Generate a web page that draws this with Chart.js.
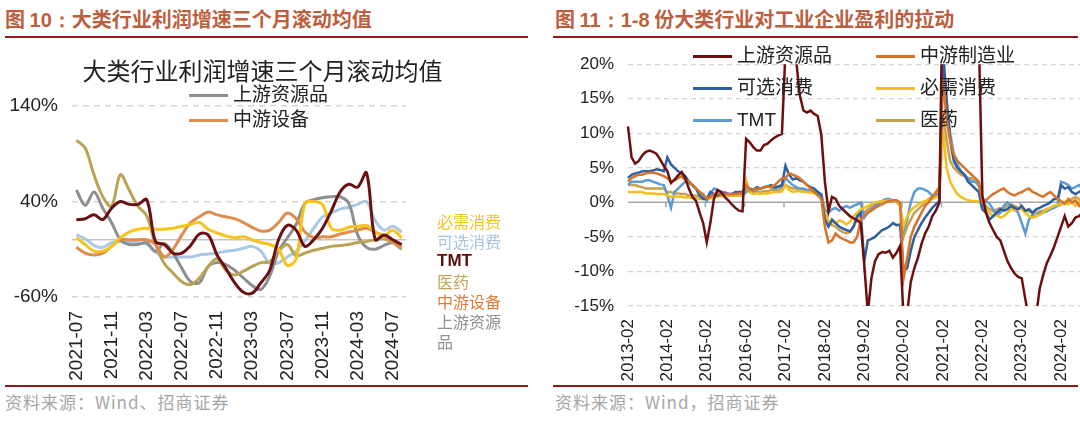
<!DOCTYPE html>
<html>
<head>
<meta charset="utf-8">
<script src="https://cdn.jsdelivr.net/npm/chart.js@4.4.1/dist/chart.umd.min.js"></script>
<style>
  body { margin: 0; background: #fff; width: 1080px; height: 421px; position: relative; overflow: hidden;
         font-family: "Noto Sans CJK SC", "Liberation Sans", sans-serif; }
  .abs { position: absolute; }
  .head { top: 4px; font-size: 20px; font-weight: bold; color: #bd5f3e; white-space: nowrap; }
  .head b { font-family: "Liberation Sans", Arial, sans-serif; }
  .rule { height: 2px; background: #8e1b1b; }
  .src { top: 389px; font-size: 17px; color: #a6a6a6; white-space: nowrap; letter-spacing: 1px; }
  .lg { font-size: 19px; color: #222; white-space: nowrap; line-height: 24px; }
  .lg i { display: inline-block; width: 39px; height: 3px; vertical-align: middle; margin-right: 5px; }
  .ctitle { left: 0; width: 525px; top: 57px; line-height: 26px; text-align: center; font-size: 24px; color: #222; white-space: nowrap; }
  .side { left: 437px; top: 211px; width: 76px; font-size: 16px; line-height: 20px; }
</style>
</head>
<body>

<div class="abs head" style="left:5px">图 <b>10：</b>大类行业利润增速三个月滚动均值</div>
<div class="abs rule" style="left:5px;top:36px;width:523px"></div>
<div class="abs head" style="left:555px">图 <b>11：1-8</b> 份大类行业对工业企业盈利的拉动</div>
<div class="abs rule" style="left:553px;top:36px;width:525px"></div>

<canvas id="left" class="abs" style="left:0;top:40px" width="525" height="345"></canvas>
<canvas id="right" class="abs" style="left:553px;top:40px" width="555" height="345"></canvas>

<div class="abs ctitle">大类行业利润增速三个月滚动均值</div>

<!-- legends -->
<div class="abs lg" style="left:189px;top:81px"><i style="background:#8e8e8e"></i>上游资源品</div>
<div class="abs lg" style="left:189px;top:106px"><i style="background:#e08a4c"></i>中游设备</div>

<div class="abs side">
  <div style="color:#f5c31c">必需消费</div>
  <div style="color:#a9c4dc">可选消费</div>
  <div style="color:#5a1010;font-family:'Liberation Sans',Arial,sans-serif;font-size:17px;font-weight:bold">TMT</div>
  <div style="color:#c4a256">医药</div>
  <div style="color:#e07b39">中游设备</div>
  <div style="color:#909090">上游资源品</div>
</div>

<div class="abs lg" style="left:693px;top:42px"><i style="background:#6d0f0f"></i>上游资源品</div>
<div class="abs lg" style="left:876px;top:42px"><i style="background:#d7742b"></i>中游制造业</div>
<div class="abs lg" style="left:693px;top:74px"><i style="background:#2f5f9e"></i>可选消费</div>
<div class="abs lg" style="left:876px;top:74px"><i style="background:#f2c01e"></i>必需消费</div>
<div class="abs lg" style="left:693px;top:106px"><i style="background:#5d9bd3"></i><span style="font-family:'Liberation Sans',Arial,sans-serif">TMT</span></div>
<div class="abs lg" style="left:876px;top:106px"><i style="background:#c9a04f"></i>医药</div>

<div class="abs rule" style="left:5px;top:385px;width:523px"></div>
<div class="abs rule" style="left:553px;top:385px;width:525px"></div>
<div class="abs src" style="left:5px">资料来源：Wind、招商证券</div>
<div class="abs src" style="left:555px">资料来源：Wind，招商证券</div>

<script>
// ---- left chart: 三个月滚动均值 (%) ----
const leftMonths = [
  '2021-07','2021-08','2021-09','2021-10','2021-11','2021-12',
  '2022-01','2022-02','2022-03','2022-04','2022-05','2022-06','2022-07','2022-08','2022-09','2022-10','2022-11','2022-12',
  '2023-01','2023-02','2023-03','2023-04','2023-05','2023-06','2023-07','2023-08','2023-09','2023-10','2023-11','2023-12',
  '2024-01','2024-02','2024-03','2024-04','2024-05','2024-06','2024-07','2024-08'
];
const leftUpstream = [52, 36, 50, 33, 18, 0, -5, -5, -3, -12, -4, -14, -30, -44, -45, -28, -24, -26, -32, -40,
  -48, -52, -38, -12, 2, 16, 38, 42, 44, 45, 45, 38, 5, -8, -10, -6, -3, -5];
const leftEquip = [-8, -14, -16, -14, -7, 0, 0, 0, 0, -5, -18, -10, 5, 18, 24, 29, 26, 24, 22, 18,
  13, 9, 10, 18, 28, 22, 8, 2, 3, 3, 6, 8, 10, 12, 8, 4, -2, -8];
const leftPharma = [104, 96, 68, 45, 35, 68, 52, 35, 25, -5, -25, -35, -44, -47, -40, -28, -20, -32, -37, -33,
  -28, -24, -23, -12, -5, -17, -14, -11, -9, -7, -6, -5, -3, -2, 0, 1, -3, -10];
const leftTmt = [21, 22, 26, 21, 33, 40, 37, 37, 42, -2, -5, -14, -14, -6, 6, 5, -16, -30, -45, -55,
  -56, -45, -32, 0, 15, 10, -7, 0, 12, 30, 50, 58, 55, 70, 0, 5, 0, -5];
const leftDiscr = [5, 1, -6, -8, -3, -2, -3, -3, -5, -13, -18, -18, -18, -18, -16, -15, -14, -12, -11, -9,
  -7, -12, -25, -24, -18, -12, -1, 12, 24, 28, 32, 34, 37, 40, 20, 10, 14, 8];
const leftStaples = [2, -5, -12, -12, -7, 2, 8, 11, 12, 11, 11, 12, 14, 16, 18, 11, 7, 4, 2, 3,
  0, -3, -5, -10, -27, -20, 38, 40, 37, 12, 10, 13, 14, 15, 8, 4, 10, 2];
const leftTicks = [-60, 40, 140];

// ---- right chart: 对工业企业盈利的拉动 (%) ----
const rightMonths = [
  '2013-02','2013-03','2013-04','2013-05','2013-06','2013-07','2013-08','2013-09','2013-10','2013-11','2013-12',
  '2014-02','2014-03','2014-04','2014-05','2014-06','2014-07','2014-08','2014-09','2014-10','2014-11','2014-12',
  '2015-02','2015-03','2015-04','2015-05','2015-06','2015-07','2015-08','2015-09','2015-10','2015-11','2015-12',
  '2016-02','2016-03','2016-04','2016-05','2016-06','2016-07','2016-08','2016-09','2016-10','2016-11','2016-12',
  '2017-02','2017-03','2017-04','2017-05','2017-06','2017-07','2017-08','2017-09','2017-10','2017-11','2017-12',
  '2018-02','2018-03','2018-04','2018-05','2018-06','2018-07','2018-08','2018-09','2018-10','2018-11','2018-12',
  '2019-02','2019-03','2019-04','2019-05','2019-06','2019-07','2019-08','2019-09','2019-10','2019-11','2019-12',
  '2020-02','2020-03','2020-04','2020-05','2020-06','2020-07','2020-08','2020-09','2020-10','2020-11','2020-12',
  '2021-02','2021-03','2021-04','2021-05','2021-06','2021-07','2021-08','2021-09','2021-10','2021-11','2021-12',
  '2022-02','2022-03','2022-04','2022-05','2022-06','2022-07','2022-08','2022-09','2022-10','2022-11','2022-12',
  '2023-02','2023-03','2023-04','2023-05','2023-06','2023-07','2023-08','2023-09','2023-10','2023-11','2023-12',
  '2024-02','2024-03','2024-04','2024-05','2024-06','2024-07','2024-08'
];
const rUpstream = [
  11, 6.5, 5.6, 6.0, 6.8, 7.3, 7.5, 7.3, 7.0, 6.2, 5.3,
  4.5, 2.8, 3.3, 3.9, 4.4, 3.5, 2.0, 0.8, 0.2, -1.5, -3.0,
  -5.8, -3.0, 0.5, 1.8, 1.5, 0.8, 0.3, -0.3, -0.8, -1.2, -1.3,
  9.2, 8.7, 8.0, 7.5, 7.5, 8.3, 8.5, 9.0, 9.4, 9.7, 9.9,
  22, 21, 21, 20.5, 15.5, 13.3, 13.0, 13.3, 12.8, 12.5, 9.8,
  3.0, -1.3, 0.8, 0.5, -0.5, -1.0, -1.5, -2.0, -2.3, -2.6, -3.0,
  -9.0, -16, -11, -8.5, -7.5, -7.2, -7.3, -7.0, -8.0, -7.3, -6.3,
  -17, -16, -11.5, -9.5, -8.0, -6.0, -4.5, -3.5, -2.0, -1.2, 0.0,
  35, 30, 28, 27, 26, 25, 25, 26, 27, 26, 24,
  1.0, -1.5, -3.0, -4.0, -5.0, -5.5, -7.0, -8.5, -9.5, -10.3, -10.8,
  -11, -14, -17, -18, -16.5, -12.5, -10.5, -8.8, -7.7, -6.5, -5.0,
  -3.5, -2.0, -3.5, -3.0, -2.2, -2.0, -1.5
];
const rMidstream = [
  3.0, 3.5, 3.8, 4.0, 4.0, 4.2, 4.3, 4.3, 4.2, 4.0, 3.8,
  3.5, 3.0, 3.2, 3.5, 3.8, 3.2, 3.0, 2.5, 2.0, 1.5, 1.2,
  0.5, 0.8, 1.2, 1.3, 1.3, 1.2, 1.2, 1.2, 1.2, 1.3, 1.3,
  2.5, 1.8, 1.8, 2.0, 2.0, 2.2, 2.3, 2.2, 2.5, 3.0, 3.5,
  3.5, 4.2, 4.0, 3.8, 3.5, 3.0, 2.5, 2.0, 1.5, 1.0, 0.5,
  -3.5, -5.8, -5.5, -4.5, -5.0, -5.3, -5.5, -5.8, -5.8, -5.0, -2.5,
  -2.0, -1.5, -1.2, -0.8, -0.5, -0.3, 0.0, 0.2, 0.3, 0.3, 0.0,
  -11, -8.0, -5.0, -3.5, -2.5, -1.5, -0.5, 0.0, 0.8, 1.5, 2.2,
  18, 12, 9.0, 7.0, 6.0, 5.5, 5.0, 4.5, 4.0, 3.5, 3.0,
  0.0, 0.3, 0.8, 1.2, 1.5, 1.8, 2.0, 1.5, 1.2, 1.0, 1.3,
  1.5, 1.8, 2.0, 1.5, 1.3, 1.0, 0.8, 1.2, 1.5, 1.0, 0.5,
  0.2, -0.2, 0.5, 0.0, 0.3, -0.5, 0.2
];
const rDiscretionary = [
  3.5, 4.0, 4.2, 4.3, 4.5, 4.5, 4.5, 4.6, 4.8, 4.7, 4.5,
  6.5, 5.5, 5.0, 4.5, 4.2, 3.8, 3.0, 2.5, 2.0, 1.0, 0.5,
  0.5, 1.5, 1.2, 1.0, 1.2, 1.3, 1.2, 1.2, 1.5, 1.5, 1.5,
  2.3, 2.0, 1.8, 2.2, 2.0, 2.2, 2.3, 2.5, 2.2, 2.3, 2.5,
  5.3, 4.0, 3.3, 3.5, 3.2, 3.0, 2.5, 2.2, 2.0, 1.5, 1.0,
  -2.5, -3.5, -2.5, -3.0, -3.5, -3.8, -4.0, -4.2, -3.5, -2.0, -1.5,
  -8.5, -5.5, -5.3, -5.0, -4.5, -4.0, -3.8, -3.5, -3.0, -3.3, -3.2,
  -10, -9.5, -7.0, -5.0, -4.0, -3.0, -2.2, -1.5, -0.8, -0.3, 0.2,
  22, 15, 9.0, 6.0, 5.0, 4.5, 4.0, 3.0, 2.5, 2.0, 1.5,
  -1.0, -1.5, -2.5, -2.0, -1.5, -1.0, -1.2, -1.0, -0.5, -0.8, -1.0,
  -0.5, -1.2, -1.0, -1.5, -1.0, -0.8, -0.5, -0.3, 0.0, 0.5, 0.5,
  2.5, 2.0, 2.2, 1.5, 1.2, 1.5, 1.8
];
const rStaples = [
  1.5, 1.5, 1.5, 1.5, 1.5, 1.3, 1.3, 1.3, 1.2, 1.2, 1.2,
  1.0, 0.8, 0.8, 0.8, 0.8, 0.7, 0.7, 0.6, 0.6, 0.5, 0.5,
  0.5, 0.6, 0.7, 0.8, 0.9, 0.9, 1.0, 1.0, 1.0, 1.0, 1.0,
  3.2, 1.5, 1.2, 1.3, 1.2, 1.3, 1.3, 1.4, 1.5, 1.5, 1.6,
  2.5, 1.8, 1.5, 1.6, 1.6, 1.5, 1.5, 1.4, 1.3, 1.2, 1.0,
  -1.5, -2.7, -2.8, -3.0, -2.6, -2.8, -3.2, -2.8, -2.0, -1.5, -1.0,
  -0.8, -0.5, -0.3, 0.0, 0.1, 0.2, 0.2, 0.3, 0.3, 0.1, -0.5,
  -3.5, -2.0, -1.2, -0.7, -0.3, 0.0, 0.2, 0.3, 0.5, 0.7, 1.0,
  10.5, 5.0, 3.0, 2.0, 1.2, 0.8, 0.5, 0.3, 0.2, 0.2, 0.1,
  -0.5, -1.0, -1.5, -2.0, -1.8, -2.2, -2.0, -1.5, -1.0, -1.2, -0.8,
  -1.0, -1.5, -2.0, -2.2, -2.0, -1.8, -1.5, -1.0, -0.8, -0.5, -0.3,
  -0.3, 0.0, -0.3, 0.0, -0.5, 0.2, 0.5
];
const rTmt = [
  2.5, 3.0, 3.0, 3.0, 3.0, 3.2, 3.2, 3.0, 2.8, 2.6, 2.5,
  1.0, -0.8, 1.5, 2.0, 2.5, 3.0, 2.8, 2.5, 2.0, 1.5, 1.0,
  0.2, 1.2, 2.0, 1.8, 1.5, 1.5, 1.2, 1.0, 1.0, 1.0, 1.0,
  1.5, 1.8, 1.5, 1.8, 2.0, 2.2, 2.3, 2.2, 2.0, 2.2, 2.3,
  3.5, 3.0, 2.5, 2.2, 2.0, 2.0, 1.8, 1.8, 1.6, 1.5, 1.2,
  -1.0, -1.5, -1.0, -0.8, -1.2, -0.8, -0.5, -0.8, -0.5, -0.3, 0.0,
  -2.2, -1.5, -1.0, -0.5, -0.2, 0.2, 0.5, 0.5, 0.3, 0.2, -0.5,
  -4.0, -2.5, 0.0, 1.5, 2.0, 2.0, 1.8, 1.5, 1.0, 1.0, 1.2,
  20, 14, 10, 7.0, 5.5, 4.5, 4.0, 3.5, 3.0, 3.0, 2.5,
  0.5, 0.2, -0.2, -1.0, -1.8, -1.5, -0.5, 0.0, -0.5, -1.0, -1.5,
  -3.0, -4.5, -2.5, -1.8, -2.0, -1.5, -1.5, -1.3, -1.0, -0.8, -0.5,
  3.0, 2.8, 2.5, 2.0, 2.2, 2.5, 2.0
];
const rPharma = [
  2.5, 2.5, 2.5, 2.3, 2.2, 2.0, 2.0, 2.0, 2.0, 2.0, 2.0,
  1.5, 1.5, 1.3, 1.3, 1.2, 1.2, 1.0, 1.0, 1.0, 0.8, 0.8,
  0.5, 0.8, 1.0, 1.0, 1.0, 1.0, 1.0, 1.0, 1.0, 1.0, 1.0,
  1.8, 1.5, 1.5, 1.5, 1.5, 1.6, 1.6, 1.8, 1.8, 1.8, 2.0,
  2.5, 2.2, 2.0, 2.0, 1.8, 1.8, 1.6, 1.6, 1.5, 1.3, 1.2,
  -2.0, -3.0, -3.3, -3.5, -4.0, -4.3, -4.5, -4.3, -3.5, -2.5, -1.5,
  -1.5, -1.0, -0.6, -0.3, 0.0, 0.2, 0.3, 0.3, 0.2, 0.0, -0.5,
  -5.0, -3.5, -2.5, -1.5, -1.0, -0.5, 0.0, 0.5, 0.8, 1.2, 1.8,
  13, 9.0, 6.0, 5.0, 4.5, 4.0, 3.8, 3.5, 3.5, 3.0, 2.5,
  0.0, -0.5, -1.0, -1.3, -1.0, -0.8, -0.8, -0.5, -0.3, -0.5, -0.8,
  -1.0, -1.2, -1.3, -1.5, -1.5, -1.3, -1.2, -1.0, -0.8, -0.5, -0.5,
  -0.3, 0.0, 0.2, 0.5, 0.8, 0.5, 0.5
];

// solid axis line at 0, plus little ticks (right chart)
const zeroLine = {
  id: 'zeroLine',
  beforeDatasetsDraw(chart, args, opts) {
    const { ctx, chartArea, scales } = chart;
    const py = scales.y.getPixelForValue(0);
    ctx.save();
    ctx.strokeStyle = opts.color;
    ctx.lineWidth = 1.5;
    ctx.beginPath();
    ctx.moveTo(chartArea.left, py);
    ctx.lineTo(chartArea.right, py);
    if (opts.every) {
      for (let i = opts.every; i < chart.data.labels.length; i += opts.every) {
        const px = scales.x.getPixelForValue(i) - 1.5;
        ctx.moveTo(px, py);
        ctx.lineTo(px, py + 5);
      }
    }
    ctx.stroke();
    ctx.restore();
  }
};

const numFont = { family: '"Liberation Sans", Arial, sans-serif' };

new Chart(document.getElementById('left'), {
  type: 'line',
  data: {
    labels: leftMonths,
    datasets: [
      { label: 'TMT', data: leftTmt, borderColor: '#6a1010' },
      { label: '必需消费', data: leftStaples, borderColor: '#f5c31c' },
      { label: '中游设备', data: leftEquip, borderColor: '#e08a4c' },
      { label: '医药', data: leftPharma, borderColor: '#b9a455' },
      { label: '上游资源品', data: leftUpstream, borderColor: '#8e8e8e' },
      { label: '可选消费', data: leftDiscr, borderColor: '#a9c8e6' }
    ]
  },
  options: {
    responsive: false,
    animation: false,
    layout: { padding: { top: 66, right: 119 } },
    elements: { line: { borderWidth: 3, tension: 0.35 }, point: { radius: 0 } },
    plugins: {
      legend: { display: false },
      tooltip: { enabled: false },
      zeroLine: { color: '#c4c4c4' }
    },
    scales: {
      x: {
        offset: true,
        grid: { display: false },
        border: { display: false },
        ticks: {
          autoSkip: false, minRotation: 90, maxRotation: 90, padding: 6,
          color: '#222', font: { ...numFont, size: 19 },
          callback(v, i) { return i % 4 === 0 ? this.getLabelForValue(v) : ''; }
        },
        afterFit(s) { s.height = 88; }
      },
      y: {
        min: -60, max: 140,
        afterBuildTicks(s) { s.ticks = leftTicks.map(v => ({ value: v })); },
        grid: { color: '#d4d4d4', lineWidth: 1.5, drawTicks: false },
        border: { display: false, dash: [6, 5] },
        ticks: { padding: 14, color: '#222', font: { ...numFont, size: 19 }, callback: v => v + '%' },
        afterFit(s) { s.width = 72; }
      }
    }
  },
  plugins: [zeroLine]
});

new Chart(document.getElementById('right'), {
  type: 'line',
  data: {
    labels: rightMonths,
    datasets: [
      { label: '上游资源品', data: rUpstream, borderColor: '#6d0f0f' },
      { label: '中游制造业', data: rMidstream, borderColor: '#d7742b' },
      { label: '可选消费', data: rDiscretionary, borderColor: '#2f5f9e' },
      { label: '必需消费', data: rStaples, borderColor: '#f2c01e' },
      { label: 'TMT', data: rTmt, borderColor: '#5d9bd3' },
      { label: '医药', data: rPharma, borderColor: '#c9a04f' }
    ]
  },
  options: {
    responsive: false,
    animation: false,
    layout: { padding: { top: 22, right: 0 } },
    elements: { line: { borderWidth: 2.5, tension: 0 }, point: { radius: 0 } },
    plugins: {
      legend: { display: false },
      tooltip: { enabled: false },
      zeroLine: { color: '#a6a6a6', every: 11 }
    },
    scales: {
      x: {
        grid: { display: false },
        border: { display: false },
        ticks: {
          autoSkip: false, minRotation: 90, maxRotation: 90, padding: 5,
          color: '#222', font: { ...numFont, size: 17 },
          callback(v, i) { return i % 11 === 0 ? this.getLabelForValue(v) : ''; }
        },
        afterFit(s) { s.height = 79; }
      },
      y: {
        min: -15, max: 20,
        ticks: { stepSize: 5, padding: 14, color: '#222', font: { ...numFont, size: 17 }, callback: v => v + '%' },
        grid: { color: c => c.tick.value === 0 ? 'rgba(0,0,0,0)' : '#d4d4d4', lineWidth: 1.2, drawTicks: false },
        border: { display: false, dash: [5, 4] },
        afterFit(s) { s.width = 75; }
      }
    }
  },
  plugins: [zeroLine]
});
</script>
</body>
</html>
